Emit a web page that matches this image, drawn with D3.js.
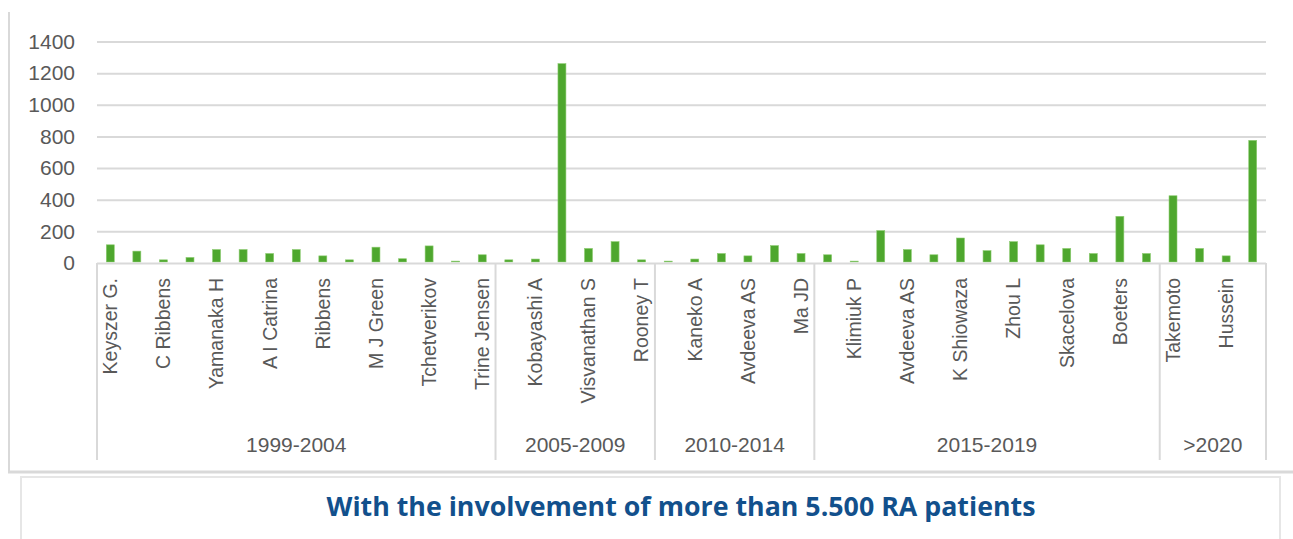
<!DOCTYPE html>
<html>
<head>
<meta charset="utf-8">
<script src="https://cdn.jsdelivr.net/npm/d3@7/dist/d3.min.js"></script>
<style>
  html, body { margin: 0; padding: 0; background: #ffffff; }
  svg { display: block; }
</style>
</head>
<body>
<svg id="chart" width="1293" height="539"></svg>
<script>
// ---- Data ----
// Category labels: Excel shows every other label; unreadable hidden ones are null.
const studyLabels = [
  "Keyszer G.", null, "C Ribbens", null, "Yamanaka H", null, "A I Catrina", null,
  "Ribbens", null, "M J Green", null, "Tchetverikov", null, "Trine Jensen",
  null, "Kobayashi A", null, "Visvanathan S", null, "Rooney T",
  null, "Kaneko A", null, "Avdeeva AS", null, "Ma JD",
  null, "Klimiuk P", null, "Avdeeva AS", null, "K Shiowaza", null, "Zhou L",
  null, "Skacelova", null, "Boeters", null,
  "Takemoto", null, "Hussein", null
];
const patients = [
  115, 75, 20, 35, 85, 85, 60, 85, 45, 20, 100, 27, 108, 12, 52,
  20, 25, 1260, 92, 135, 20,
  12, 25, 60, 45, 110, 60,
  52, 12, 205, 85, 52, 158, 78, 135, 115, 92, 60, 295, 60,
  425, 92, 45, 775
];
const periodNames = ["1999-2004", "2005-2009", "2010-2014", "2015-2019", ">2020"];
const periodCounts = [15, 6, 6, 13, 4];
const yTicks = [0, 200, 400, 600, 800, 1000, 1200, 1400];
const titleText = "With the involvement of more than 5.500 RA patients";

// ---- Layout ----
const svg = d3.select("#chart");
const plot = { left: 97, right: 1266, top: 41.5, bottom: 263 };
const idx = d3.range(patients.length);

const x = d3.scaleBand().domain(idx).range([plot.left, plot.right]).paddingInner(0.7).paddingOuter(0.35);
const y = d3.scaleLinear().domain([0, 1400]).range([plot.bottom, plot.top]);

const gray = "#d9d9d9";
const textGray = "#595959";

// Chart frame (left and bottom edges visible)
svg.append("line").attr("x1", 9).attr("x2", 9).attr("y1", 12).attr("y2", 472)
  .attr("stroke", gray).attr("stroke-width", 2);
svg.append("line").attr("x1", 8).attr("x2", 1293).attr("y1", 472).attr("y2", 472)
  .attr("stroke", gray).attr("stroke-width", 3);

// Gridlines + y tick labels
const yAxis = d3.axisLeft(y).tickValues(yTicks).tickFormat(d3.format("d"))
  .tickSize(-(plot.right - plot.left)).tickPadding(22);
const gy = svg.append("g").attr("transform", `translate(${plot.left},0)`).call(yAxis);
gy.select(".domain").remove();
gy.selectAll(".tick line").attr("stroke", gray).attr("stroke-width", 2)
  .filter(d => d === 0).remove();
gy.selectAll(".tick text").attr("fill", textGray)
  .style("font-family", "'Liberation Sans', Arial, sans-serif").style("font-size", "21px");

// Bars
svg.append("g").selectAll("rect").data(idx).join("rect")
  .attr("x", i => x(i))
  .attr("width", x.bandwidth())
  .attr("y", i => y(patients[i]))
  .attr("height", i => y(0) - y(patients[i]) - 1)
  .attr("fill", "#4ea72e")
  .attr("stroke", "#8ccb70")
  .attr("stroke-width", 0.6);

// Category axis line
svg.append("line").attr("x1", plot.left).attr("x2", plot.right)
  .attr("y1", plot.bottom + 0.5).attr("y2", plot.bottom + 0.5)
  .attr("stroke", gray).attr("stroke-width", 2);

// Group separators
const unit = (plot.right - plot.left) / patients.length;
let acc = 0;
const bounds = [0];
periodCounts.forEach(c => { acc += c; bounds.push(acc); });
svg.append("g").selectAll("line").data(bounds).join("line")
  .attr("x1", b => plot.left + b * unit).attr("x2", b => plot.left + b * unit)
  .attr("y1", plot.bottom).attr("y2", 460)
  .attr("stroke", gray).attr("stroke-width", 2);

// Period labels
svg.append("g").selectAll("text").data(periodNames).join("text")
  .attr("x", (d, i) => plot.left + (bounds[i] + bounds[i + 1]) / 2 * unit)
  .attr("y", 452)
  .attr("text-anchor", "middle")
  .attr("fill", textGray)
  .style("font-family", "'Liberation Sans', Arial, sans-serif").style("font-size", "21px")
  .text(d => d);

// Category labels (rotated)
svg.append("g").selectAll("text").data(idx.filter(i => studyLabels[i])).join("text")
  .attr("transform", i => `translate(${x(i) + x.bandwidth() / 2},278) rotate(-90)`)
  .attr("text-anchor", "end")
  .attr("dy", "0.35em")
  .attr("fill", textGray)
  .style("font-family", "'Liberation Sans', Arial, sans-serif").style("font-size", "19.5px")
  .text(i => studyLabels[i]);

// Title box
svg.append("rect").attr("x", 21).attr("y", 477).attr("width", 1259).attr("height", 80)
  .attr("fill", "#ffffff").attr("stroke", "#e6e6e6").attr("stroke-width", 2);
svg.append("text")
  .attr("x", 681).attr("y", 516)
  .attr("text-anchor", "middle")
  .attr("fill", "#12508c")
  .attr("textLength", 709).attr("lengthAdjust", "spacingAndGlyphs")
  .style("font-family", "'Open Sans', 'Noto Sans', sans-serif")
  .style("font-weight", "700").style("font-size", "27px")
  .text(titleText);
</script>
</body>
</html>
